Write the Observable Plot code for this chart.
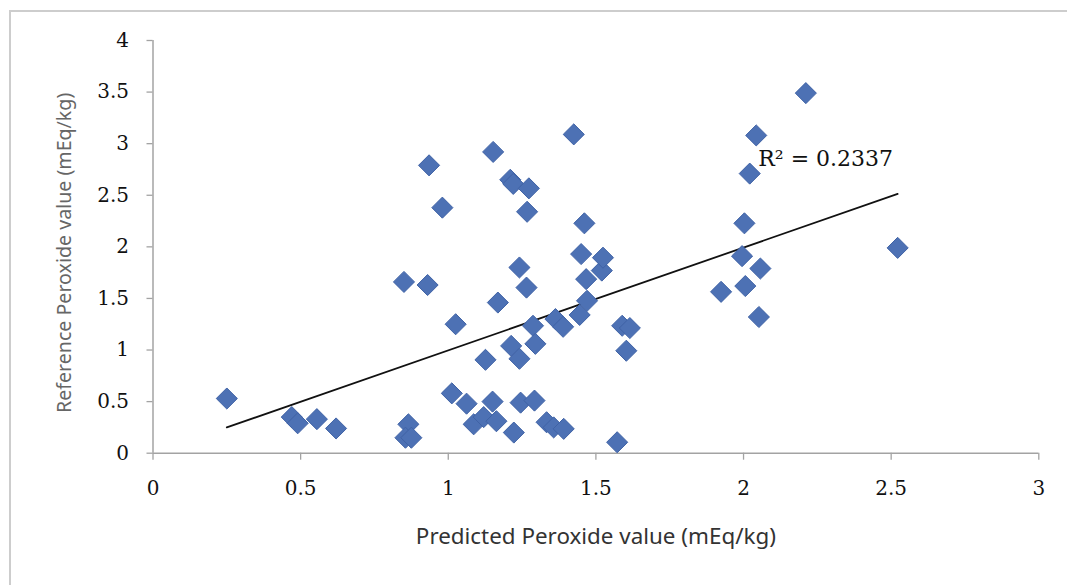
<!DOCTYPE html>
<html>
<head>
<meta charset="utf-8">
<script src="https://cdn.jsdelivr.net/npm/d3@7"></script>
<script src="https://cdn.jsdelivr.net/npm/@observablehq/plot@0.6"></script>
<style>
  html, body { margin: 0; padding: 0; background: #fff; }
  #wrap { position: relative; width: 1067px; height: 585px; overflow: hidden; }
  #frame { position: absolute; left: 9px; top: 10px; width: 1100px; height: 600px;
           border-left: 2px solid #cdcdcd; border-top: 2px solid #cdcdcd; box-sizing: border-box; }
  #chart { position: absolute; left: 0; top: 0; }
</style>
</head>
<body>
<div id="wrap"><div id="chart"></div><div id="frame"></div></div>
<script>
// Predicted peroxide value (x) and reference peroxide value (y), mEq/kg
const predicted = [
  0.25, 0.47, 0.49, 0.555, 0.62, 0.85, 0.93, 0.935, 0.98, 1.025,
  0.865, 0.855, 0.875, 1.012, 1.062, 1.086, 1.12, 1.126, 1.15, 1.163,
  1.152, 1.168, 1.21, 1.22, 1.213, 1.222, 1.241, 1.241, 1.245, 1.265,
  1.267, 1.273, 1.287, 1.292, 1.295, 1.333, 1.357, 1.363, 1.389, 1.391,
  1.425, 1.445, 1.45, 1.461, 1.467, 1.47, 1.52, 1.524, 1.572, 1.589,
  1.615, 1.603, 1.924, 1.995, 2.003, 2.006, 2.021, 2.043, 2.052, 2.057,
  2.211, 2.522
];
const reference = [
  0.53, 0.35, 0.29, 0.33, 0.24, 1.66, 1.63, 2.79, 2.38, 1.25,
  0.28, 0.15, 0.15, 0.58, 0.48, 0.28, 0.35, 0.905, 0.50, 0.31,
  2.92, 1.46, 2.65, 2.61, 1.04, 0.20, 0.915, 1.80, 0.49, 1.605,
  2.34, 2.567, 1.235, 0.51, 1.06, 0.30, 0.25, 1.30, 1.225, 0.236,
  3.09, 1.34, 1.93, 2.228, 1.687, 1.477, 1.77, 1.895, 0.106, 1.235,
  1.213, 0.993, 1.564, 1.91, 2.228, 1.62, 2.71, 3.08, 1.32, 1.79,
  3.49, 1.99
];
const xTicks = [0, 0.5, 1, 1.5, 2, 2.5, 3];
const yTicks = [0, 0.5, 1, 1.5, 2, 2.5, 3, 3.5, 4];
const trendSlope = 0.996;
const trendIntercept = 0.001;
const r2Label = "R\u00B2 = 0.2337";
const r2Pos = {x: 2.05, y: 2.85};
const xTitle = "Predicted Peroxide value (mEq/kg)";
const yTitle = "Reference Peroxide value (mEq/kg)";

const points = predicted.map((p, i) => ({x: p, y: reference[i]}));
const xMin = d3.min(predicted), xMax = d3.max(predicted);
const trend = [xMin, xMax].map(x => ({x, y: trendIntercept + trendSlope * x}));

const serif = "'DejaVu Serif', 'Liberation Serif', serif";
const sans = "'Noto Sans', 'Open Sans', sans-serif";

const chart = Plot.plot({
  width: 1067,
  height: 585,
  marginLeft: 152.5,
  marginRight: 28.7,
  marginTop: 40,
  marginBottom: 132.3,
  style: {background: "transparent", fontFamily: serif, fontSize: "20px", color: "#111"},
  x: {domain: [0, 3]},
  y: {domain: [0, 4]},
  marks: [
    Plot.axisX({ticks: xTicks, tickFormat: d => String(d), tickSize: 7, tickPadding: 21,
                stroke: "#a3a3a3", strokeWidth: 1.3, fill: "#111", fontSize: 20, fontFamily: serif, label: null}),
    Plot.axisY({ticks: yTicks, tickFormat: d => String(d), tickSize: 6, tickPadding: 18,
                stroke: "#a3a3a3", strokeWidth: 1.3, fill: "#111", fontSize: 20, fontFamily: serif, label: null}),
    Plot.ruleX([0], {stroke: "#a3a3a3", strokeWidth: 1.5}),
    Plot.ruleY([0], {stroke: "#a3a3a3", strokeWidth: 1.5}),
    Plot.line(trend, {x: "x", y: "y", stroke: "#111", strokeWidth: 1.8}),
    Plot.dot(points, {x: "x", y: "y", symbol: "diamond2", r: 9.5, fill: "#4d71b4", stroke: "#4063a6", strokeWidth: 1}),
    Plot.text([r2Label], {x: () => r2Pos.x, y: () => r2Pos.y, textAnchor: "start", fontFamily: serif,
                           fontSize: 22, fill: "#111"}),
    Plot.text([xTitle], {frameAnchor: "bottom", textAnchor: "middle", dy: 91, fontFamily: sans, fontSize: 22.4,
                         fill: "#333"}),
    Plot.text([yTitle], {frameAnchor: "left", textAnchor: "middle", dx: -88, dy: 6, rotate: -90, fontFamily: sans,
                         fontSize: 19.6, fill: "#666"})
  ]
});
document.getElementById("chart").appendChild(chart);
</script>
</body>
</html>
